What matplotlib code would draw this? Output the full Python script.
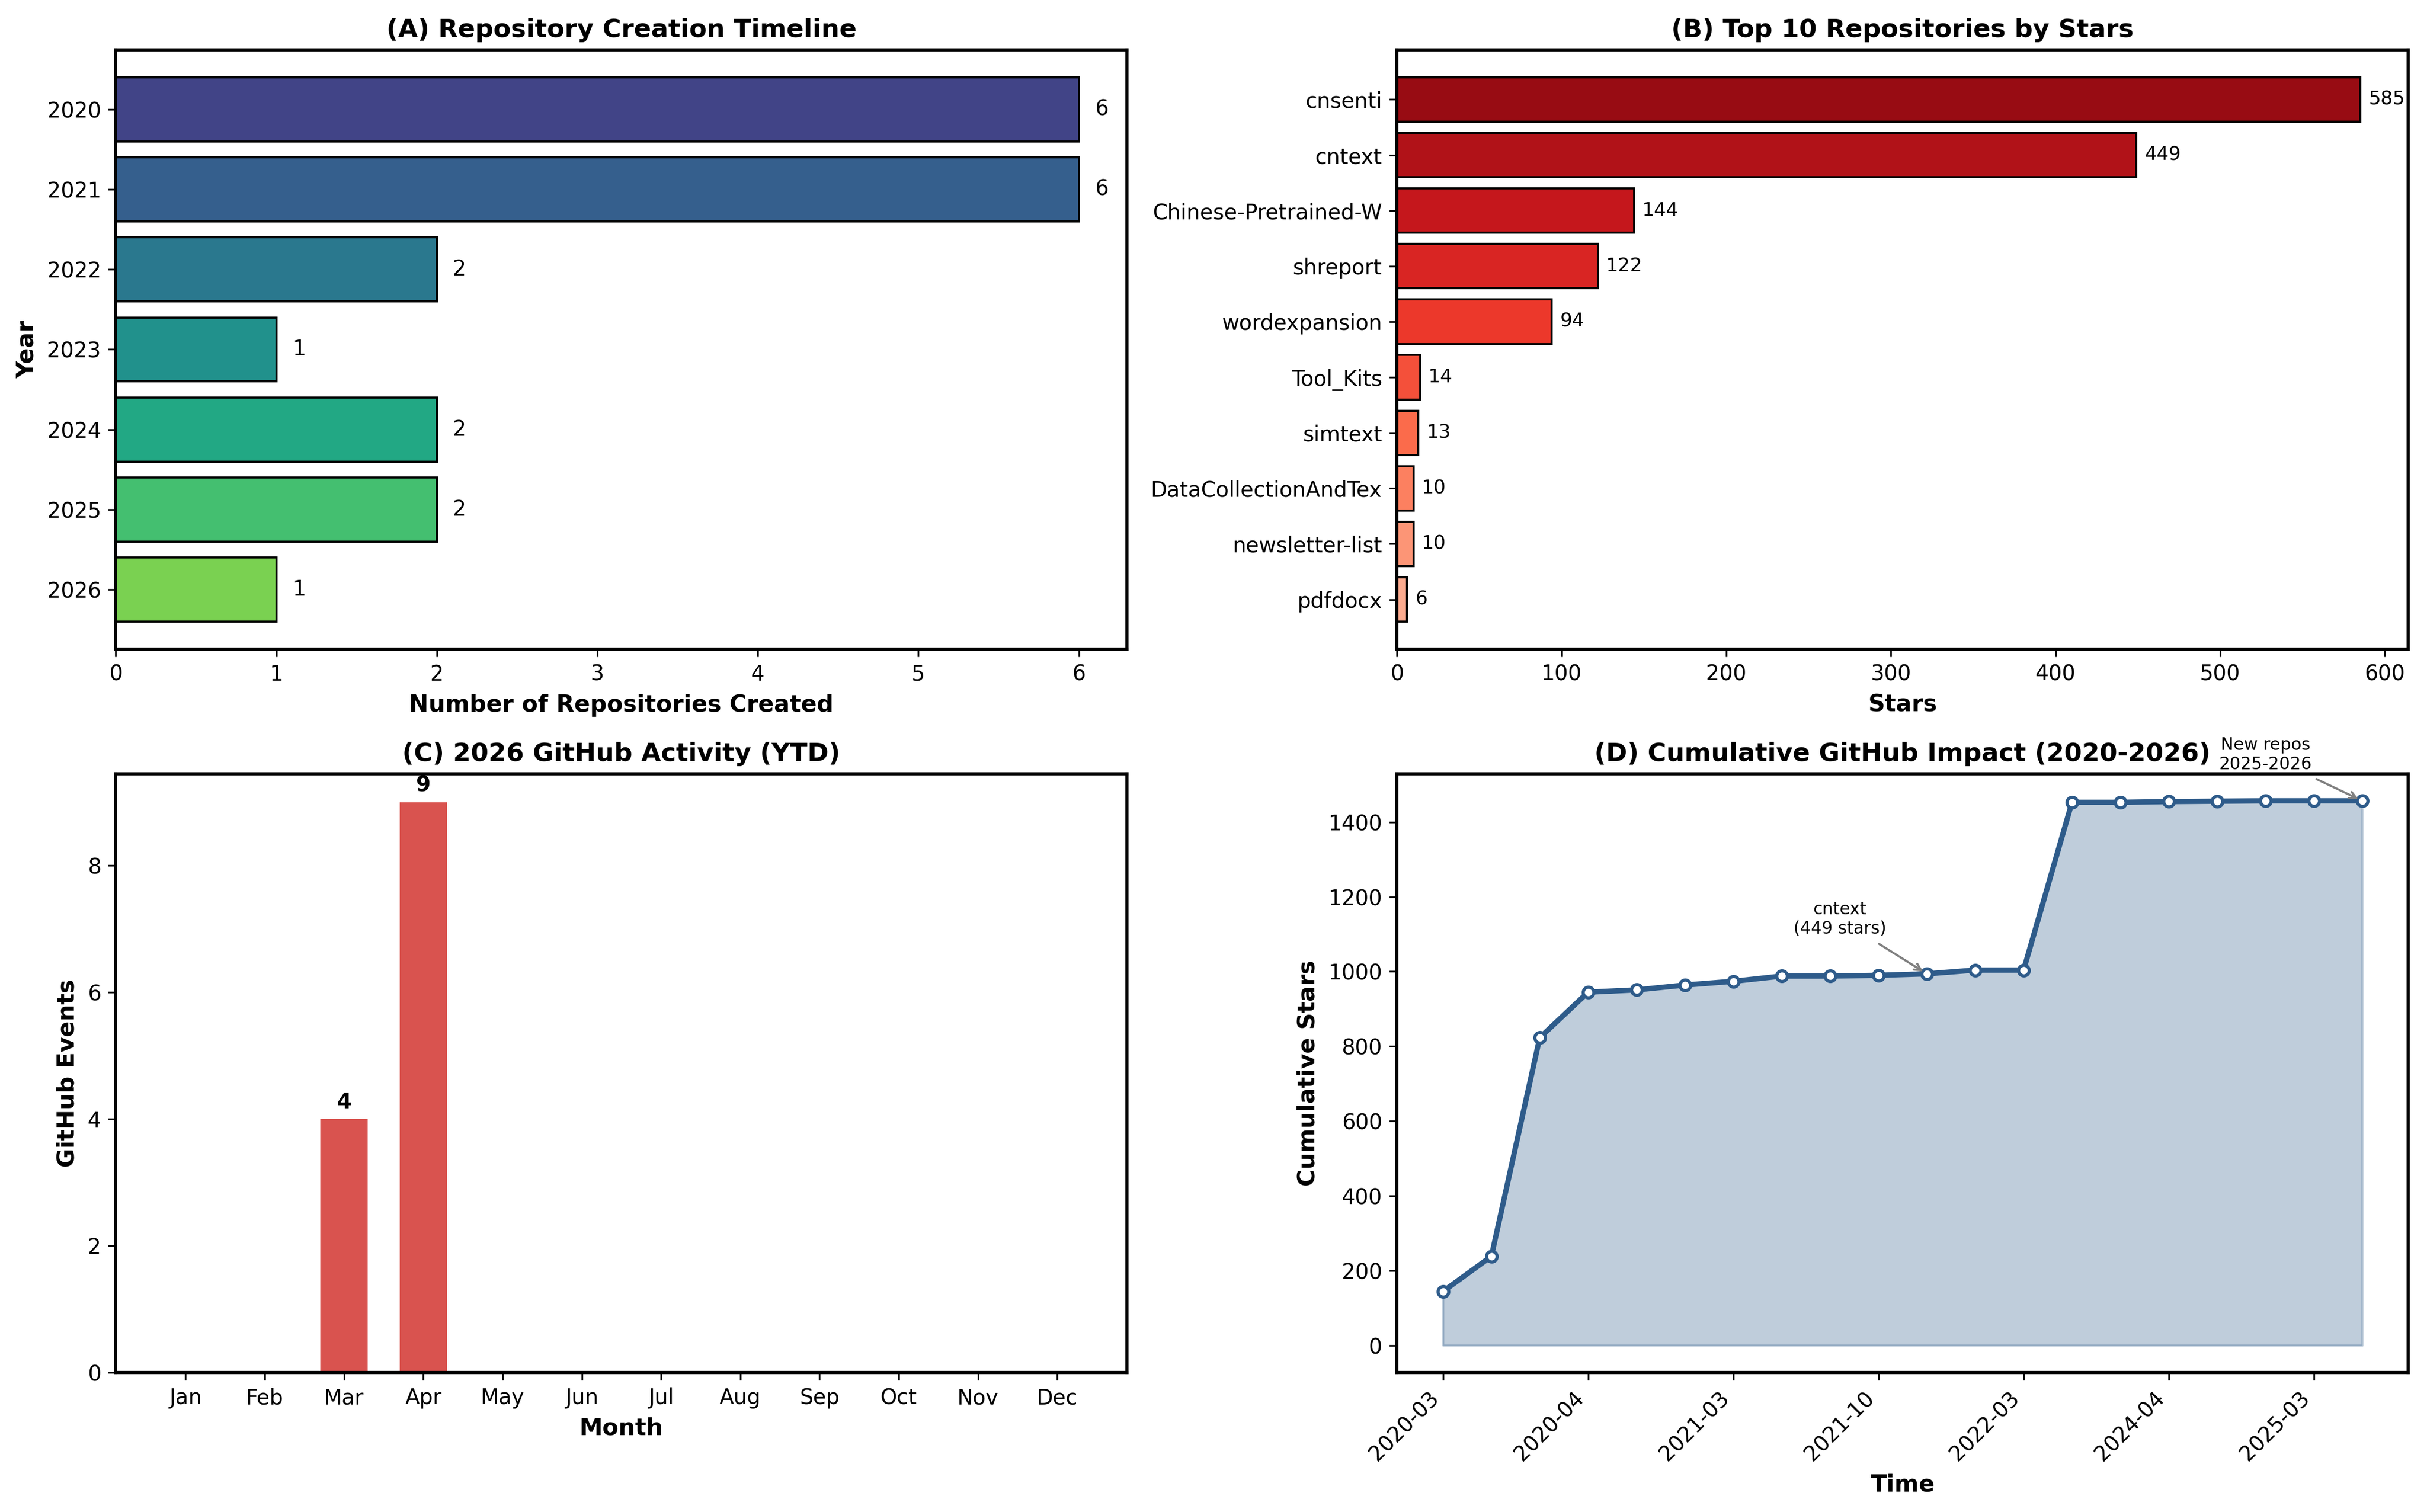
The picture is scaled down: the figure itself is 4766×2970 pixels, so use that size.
import numpy as np
import matplotlib
matplotlib.use("Agg")
import matplotlib.pyplot as plt

# -------------------------------
# Données
# -------------------------------

years = ["2020", "2021", "2022", "2023", "2024", "2025", "2026"]
repos_per_year = [6, 6, 2, 1, 2, 2, 1]

repo_names = ["cnsenti", "cntext", "Chinese-Pretrained-W", "shreport", "wordexpansion",
              "Tool_Kits", "simtext", "DataCollectionAndTex", "newsletter-list", "pdfdocx"]
repo_stars = [585, 449, 144, 122, 94, 14, 13, 10, 10, 6]

months = ["Jan", "Feb", "Mar", "Apr", "May", "Jun",
          "Jul", "Aug", "Sep", "Oct", "Nov", "Dec"]
events_2026 = [0, 0, 4, 9, 0, 0, 0, 0, 0, 0, 0, 0]

cum_stars = [144, 238, 823, 945, 951, 964, 974, 988, 988, 990,
             994, 1004, 1004, 1453, 1453, 1455, 1456, 1457, 1457, 1457]
time_tick_labels = ["2020-03", "2020-04", "2021-03", "2021-10",
                    "2022-03", "2024-04", "2025-03"]

# -------------------------------
# Figure
# -------------------------------

fig, axes = plt.subplots(2, 2, figsize=(15.887, 9.9))

# (A) timeline
ax = axes[0, 0]
colors_a = plt.cm.viridis(np.linspace(0.2, 0.8, len(years)))
ax.barh(years, repos_per_year, color=colors_a, edgecolor="black")
ax.invert_yaxis()
for i, v in enumerate(repos_per_year):
    ax.text(v + 0.1, i, str(v), va="center", fontsize=10)
ax.set_xlabel("Number of Repositories Created", fontsize=11, fontweight="bold")
ax.set_ylabel("Year", fontsize=11, fontweight="bold")
ax.set_title("(A) Repository Creation Timeline", fontsize=12, fontweight="bold")

# (B) top repos
ax = axes[0, 1]
colors_b = plt.cm.Reds(np.linspace(0.9, 0.3, len(repo_names)))
ax.barh(repo_names, repo_stars, color=colors_b, edgecolor="black")
ax.invert_yaxis()
for i, v in enumerate(repo_stars):
    ax.text(v + 5, i, str(v), va="center", fontsize=9)
ax.set_xlabel("Stars", fontsize=11, fontweight="bold")
ax.set_title("(B) Top 10 Repositories by Stars", fontsize=12, fontweight="bold")

# (C) activité 2026
ax = axes[1, 0]
x = np.arange(len(months))
ax.bar(x, events_2026, width=0.6, color="#d9534f")
for i, v in enumerate(events_2026):
    if v > 0:
        ax.text(i, v + 0.1, str(v), ha="center", va="bottom", fontsize=10, fontweight="bold")
ax.set_xticks(x)
ax.set_xticklabels(months)
ax.set_xlabel("Month", fontsize=11, fontweight="bold")
ax.set_ylabel("GitHub Events", fontsize=11, fontweight="bold")
ax.set_title("(C) 2026 GitHub Activity (YTD)", fontsize=12, fontweight="bold")

# (D) impact cumulé
ax = axes[1, 1]
xs = np.arange(len(cum_stars))
ax.fill_between(xs, 0, cum_stars, color="#2e5b8a", alpha=0.3)
ax.plot(xs, cum_stars, color="#2e5b8a", lw=2.5, marker="o", markersize=5,
        markerfacecolor="white", markeredgewidth=1.5)
ax.set_xticks(xs[::3])
ax.set_xticklabels(time_tick_labels, rotation=45, ha="right")
ax.annotate("cntext\n(449 stars)", xy=(10, cum_stars[10]), xytext=(8.2, 1140),
            ha="center", va="center", fontsize=8,
            arrowprops=dict(arrowstyle="->", color="gray"))
ax.annotate("New repos\n2025-2026", xy=(19, cum_stars[19]), xytext=(17, 1580),
            ha="center", va="center", fontsize=8,
            arrowprops=dict(arrowstyle="->", color="gray"))
ax.set_xlabel("Time", fontsize=11, fontweight="bold")
ax.set_ylabel("Cumulative Stars", fontsize=11, fontweight="bold")
ax.set_title("(D) Cumulative GitHub Impact (2020-2026)", fontsize=12, fontweight="bold")

for a in axes.flat:
    for s in a.spines.values():
        s.set_linewidth(1.5)

plt.tight_layout(pad=0.75, h_pad=1.08, w_pad=1.08)
plt.savefig("out.png", dpi=300)
plt.close()
